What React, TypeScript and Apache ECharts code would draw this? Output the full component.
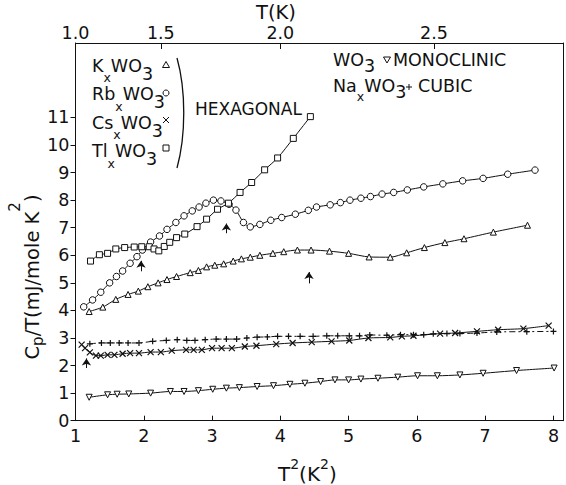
import React, { useEffect, useRef } from 'react';
import * as echarts from 'echarts';

const FONT = '"DejaVu Sans", sans-serif';
const INK = '#111';

// x = T^2 (K^2), y = Cp/T (mJ/mole K^2)
const kxwo3: number[][] = [
  [1.20, 3.96], [1.40, 4.12], [1.59, 4.40], [1.77, 4.58], [1.92, 4.70], [2.06, 4.86],
  [2.21, 5.00], [2.34, 5.12], [2.48, 5.23], [2.68, 5.37], [2.80, 5.45], [2.92, 5.58],
  [3.04, 5.64], [3.17, 5.69], [3.31, 5.79], [3.43, 5.87], [3.56, 5.93], [3.70, 6.00],
  [3.89, 6.07], [4.05, 6.13], [4.25, 6.19], [4.45, 6.19], [4.72, 6.15], [5.00, 6.07],
  [5.30, 5.94], [5.61, 5.93], [5.85, 6.09], [6.11, 6.28], [6.41, 6.46], [6.69, 6.60],
  [7.12, 6.84], [7.62, 7.09],
];

const rbxwo3: number[][] = [
  [1.12, 4.13], [1.25, 4.38], [1.37, 4.66], [1.50, 5.00], [1.60, 5.23], [1.69, 5.43],
  [1.80, 5.71], [1.90, 5.95], [1.98, 6.19], [2.10, 6.48], [2.23, 6.70], [2.34, 6.94],
  [2.47, 7.19], [2.59, 7.43], [2.71, 7.61], [2.81, 7.75], [2.91, 7.89], [3.02, 8.00],
  [3.13, 7.97], [3.25, 7.85], [3.35, 7.64], [3.46, 7.19], [3.56, 7.03], [3.70, 7.12],
  [3.86, 7.27], [4.02, 7.37], [4.22, 7.49], [4.41, 7.63], [4.53, 7.75], [4.73, 7.83],
  [4.88, 7.91], [5.02, 8.00], [5.18, 8.07], [5.32, 8.13], [5.49, 8.22], [5.66, 8.28],
  [5.86, 8.37], [6.10, 8.48], [6.38, 8.59], [6.67, 8.70], [6.97, 8.79], [7.33, 8.94],
  [7.73, 9.09],
];

const csxwo3: number[][] = [
  [1.09, 2.76], [1.14, 2.63], [1.21, 2.48], [1.30, 2.36], [1.37, 2.36], [1.47, 2.39],
  [1.57, 2.39], [1.69, 2.43], [1.80, 2.45], [1.93, 2.45], [2.10, 2.49], [2.25, 2.49],
  [2.41, 2.54], [2.62, 2.57], [2.73, 2.57], [2.85, 2.57], [3.00, 2.63], [3.14, 2.63],
  [3.29, 2.63], [3.48, 2.69], [3.65, 2.72], [3.94, 2.78], [4.18, 2.82], [4.46, 2.85],
  [4.75, 2.88], [5.01, 2.91], [5.29, 3.00], [5.61, 3.02], [5.78, 3.06], [5.95, 3.08],
  [6.34, 3.16], [6.56, 3.18], [6.88, 3.24], [7.19, 3.30], [7.56, 3.34], [7.93, 3.45],
];

const tlxwo3: number[][] = [
  [1.22, 5.79], [1.35, 6.02], [1.47, 6.07], [1.59, 6.23], [1.72, 6.28], [1.86, 6.30],
  [1.97, 6.31], [2.08, 6.31], [2.15, 6.23], [2.22, 6.16], [2.30, 6.32], [2.38, 6.47],
  [2.48, 6.64], [2.60, 6.77], [2.78, 7.04], [2.92, 7.31], [3.08, 7.67], [3.24, 7.89],
  [3.41, 8.28], [3.58, 8.64], [3.77, 9.10], [3.96, 9.53], [4.19, 10.24], [4.44, 11.03],
];

const wo3Mono: number[][] = [
  [1.20, 0.85], [1.47, 0.94], [1.61, 0.96], [1.78, 0.97], [2.10, 1.00], [2.39, 1.06],
  [2.59, 1.06], [2.80, 1.09], [3.01, 1.14], [3.21, 1.18], [3.40, 1.20], [3.66, 1.24],
  [3.90, 1.27], [4.14, 1.32], [4.36, 1.36], [4.59, 1.42], [4.80, 1.48], [5.00, 1.48],
  [5.18, 1.51], [5.43, 1.54], [5.72, 1.58], [6.01, 1.63], [6.30, 1.63], [6.63, 1.66],
  [6.97, 1.72], [7.46, 1.82], [8.01, 1.91],
];

const naxwo3: number[][] = [
  [1.21, 2.79], [1.38, 2.82], [1.51, 2.82], [1.64, 2.82], [1.77, 2.82], [1.93, 2.82],
  [2.13, 2.88], [2.33, 2.91], [2.49, 2.94], [2.63, 2.91], [2.75, 2.91], [2.90, 2.94],
  [3.06, 2.96], [3.21, 2.96], [3.36, 2.96], [3.51, 3.00], [3.66, 3.03], [3.81, 3.04],
  [3.96, 3.06], [4.12, 3.06], [4.29, 3.06], [4.48, 3.06], [4.68, 3.08], [4.84, 3.08],
  [5.01, 3.08], [5.16, 3.08], [5.31, 3.11], [5.56, 3.10], [5.76, 3.12], [5.95, 3.12],
  [6.10, 3.12], [6.24, 3.15], [6.44, 3.16], [6.63, 3.16], [6.88, 3.18], [7.17, 3.22],
  [7.61, 3.23], [8.00, 3.24],
];

// transition arrows (x, from y, to y)
const arrowX = [1.96, 3.21, 4.42, 1.16];
const arrowFrom = [5.42, 6.80, 4.98, 1.91];
const arrowTo = [5.80, 7.15, 5.39, 2.26];

const xTicks = [1, 2, 3, 4, 5, 6, 7, 8];
const yTicks = [0, 1, 2, 3, 4, 5, 6, 7, 8, 9, 10, 11];
const tTickLabels = ['1.0', '1.5', '2.0', '2.5'];

const X_MIN = 1;
const X_MAX = 8.14;
const Y_MAX = 13.7;

const CROSS = 'path://M0,0L10,10M10,0L0,10';
const PLUS = 'path://M5,0L5,10M0,5L10,5';

function makeSeries(name: string, data: number[][], symbol: string, size: number, opts: any = {}) {
  return {
    name,
    type: 'line',
    data,
    symbol,
    symbolSize: size,
    symbolRotate: opts.rotate || 0,
    smooth: opts.smooth ?? 0.25,
    lineStyle: { color: INK, width: 1, type: opts.lineType || 'solid' },
    itemStyle: { color: '#fff', borderColor: INK, borderWidth: opts.bw || 1 },
    emphasis: { disabled: true },
    silent: true,
    z: opts.z || 2,
    markLine: opts.markLine,
  };
}

function subRich(fs: number, lh: number) {
  return {
    m: { fontFamily: FONT, fontSize: fs, height: 20, lineHeight: lh, verticalAlign: 'top', fill: INK },
    x: { fontFamily: FONT, fontSize: 12.5, height: 12, lineHeight: lh, verticalAlign: 'bottom', fill: INK },
    n: { fontFamily: FONT, fontSize: fs, height: 20, lineHeight: lh, verticalAlign: 'bottom', fill: INK },
  };
}

export default function App() {
  const ref = useRef<HTMLDivElement>(null);

  useEffect(() => {
    if (!ref.current) return;
    const chart = echarts.init(ref.current, null, { renderer: 'svg' });

    const rowRich: any = subRich(17.5, 28);
    const rowRich2: any = subRich(17.5, 26);
    const legendRows = [
      { text: '{m|K}{x|x}{m|WO}{n|3}', top: 55.8 },
      { text: '{m|Rb}{x|x}{m|WO}{n|3}', top: 84.2 },
      { text: '{m|Cs}{x|x}{m|WO}{n|3}', top: 112.6 },
      { text: '{m|Tl}{x|x}{m|WO}{n|3}', top: 141 },
    ];
    const mk = { stroke: INK, fill: '#fff', lineWidth: 1 };

    const graphic: any[] = [
      ...legendRows.map((r) => ({
        type: 'text', x: 92, y: r.top, silent: true,
        style: { text: r.text, rich: rowRich, fill: INK, fontFamily: FONT, fontSize: 17.5, align: 'left', verticalAlign: 'top' },
      })),
      { type: 'polygon', shape: { points: [[166, 61.5], [169.5, 67.5], [162.5, 67.5]] }, style: mk },
      { type: 'circle', shape: { cx: 166, cy: 93, r: 3 }, style: mk },
      { type: 'line', shape: { x1: 163, y1: 117, x2: 169, y2: 123 }, style: { stroke: INK, lineWidth: 1 } },
      { type: 'line', shape: { x1: 169, y1: 117, x2: 163, y2: 123 }, style: { stroke: INK, lineWidth: 1 } },
      { type: 'rect', shape: { x: 163, y: 145, width: 6, height: 6 }, style: mk },
      { type: 'bezierCurve', shape: { x1: 177, y1: 58, cpx1: 186, cpy1: 90, cpx2: 186, cpy2: 135, x2: 177, y2: 168 }, style: { stroke: INK, fill: 'none', lineWidth: 1.3 } },
      { type: 'text', x: 195, y: 108.5, style: { text: 'HEXAGONAL', fill: INK, fontFamily: FONT, fontSize: 17, align: 'left', verticalAlign: 'middle' } },
      {
        type: 'text', x: 333, y: 50, style: {
          text: '{m|WO}{n|3}', rich: rowRich2,
          fill: INK, fontFamily: FONT, fontSize: 17.5, align: 'left', verticalAlign: 'top',
        },
      },
      { type: 'polygon', shape: { points: [[383.5, 57], [390.5, 57], [387, 63]] }, style: mk },
      { type: 'text', x: 393, y: 60, style: { text: 'MONOCLINIC', fill: INK, fontFamily: FONT, fontSize: 17.5, lineHeight: 20, align: 'left', verticalAlign: 'middle' } },
      {
        type: 'text', x: 333, y: 76, style: {
          text: '{m|Na}{x|x}{m|WO}{n|3}', rich: rowRich2,
          fill: INK, fontFamily: FONT, fontSize: 17.5, align: 'left', verticalAlign: 'top',
        },
      },
      { type: 'line', shape: { x1: 409, y1: 84, x2: 409, y2: 90 }, style: { stroke: INK, lineWidth: 1 } },
      { type: 'line', shape: { x1: 406, y1: 87, x2: 412, y2: 87 }, style: { stroke: INK, lineWidth: 1 } },
      { type: 'text', x: 418, y: 86, style: { text: 'CUBIC', fill: INK, fontFamily: FONT, fontSize: 17.5, lineHeight: 20, align: 'left', verticalAlign: 'middle' } },
      // axis titles
      { type: 'text', x: 276, y: 12, style: { text: 'T(K)', fill: INK, fontFamily: FONT, fontSize: 19.5, lineHeight: 19, align: 'center', verticalAlign: 'middle' } },
      {
        type: 'text', x: 278, y: 459, style: {
          text: '{m|T}{s|2}{m|(K}{s|2}{m|)}',
          rich: {
            m: { fontFamily: FONT, fontSize: 20, height: 30, verticalAlign: 'top', fill: INK },
            s: { fontFamily: FONT, fontSize: 14, height: 10, verticalAlign: 'top', fill: INK },
          },
          fill: INK, fontFamily: FONT, fontSize: 20, align: 'left', verticalAlign: 'top',
        },
      },
      {
        type: 'text', x: 38, y: 277, rotation: Math.PI / 2, style: {
          text: '{m|C}{p|p}{m|/T(mJ/mole K}{s|2}{m|)}',
          rich: {
            m: { fontFamily: FONT, fontSize: 19.5, height: 50, verticalAlign: 'top', fill: INK },
            p: { fontFamily: FONT, fontSize: 15, height: 62, verticalAlign: 'top', fill: INK },
            s: { fontFamily: FONT, fontSize: 15, height: 16, verticalAlign: 'top', fill: INK },
          },
          fill: INK, fontFamily: FONT, fontSize: 19.5, align: 'center', verticalAlign: 'middle',
        },
      },
    ];

    const arrowLines = arrowX.map((x, i) => [{ coord: [x, arrowFrom[i]] }, { coord: [x, arrowTo[i]] }]);

    const labelStyle = { color: INK, fontFamily: FONT, fontSize: 17.5 };

    chart.setOption({
      animation: false,
      backgroundColor: '#fff',
      grid: { left: 75.5, right: 3, top: 43, bottom: 64.3, containLabel: false },
      xAxis: [
        {
          type: 'value', position: 'bottom', min: X_MIN, max: X_MAX, interval: 1,
          axisLine: { show: true, onZero: false, lineStyle: { color: INK, width: 1 } },
          axisTick: { show: true, inside: true, length: 5, customValues: xTicks, lineStyle: { color: INK } },
          axisLabel: { show: true, customValues: xTicks, margin: 6, ...labelStyle },
          splitLine: { show: false },
        },
        {
          type: 'value', position: 'top', min: X_MIN, max: X_MAX,
          axisLine: { show: true, onZero: false, lineStyle: { color: INK, width: 1 } },
          axisTick: { show: true, inside: true, length: 6, customValues: tTickLabels.slice(1).map((t) => Number(t) * Number(t)), lineStyle: { color: INK } },
          axisLabel: {
            show: true, margin: 2, lineHeight: 16, ...labelStyle,
            customValues: tTickLabels.map((t) => Number(t) * Number(t)),
            formatter: (v: number) => {
              const i = tTickLabels.findIndex((t) => Math.abs(Number(t) * Number(t) - v) < 1e-6);
              return i >= 0 ? tTickLabels[i] : '';
            },
          },
          splitLine: { show: false },
        },
      ],
      yAxis: [
        {
          type: 'value', position: 'left', min: 0, max: Y_MAX, interval: 1,
          axisLine: { show: true, onZero: false, lineStyle: { color: INK, width: 1 } },
          axisTick: { show: true, inside: false, length: 5, customValues: yTicks, lineStyle: { color: INK } },
          axisLabel: { show: true, customValues: yTicks, margin: 6, ...labelStyle },
          splitLine: { show: false },
        },
        {
          type: 'value', position: 'right', min: 0, max: Y_MAX,
          axisLine: { show: true, onZero: false, lineStyle: { color: INK, width: 1 } },
          axisTick: { show: false },
          axisLabel: { show: false },
          splitLine: { show: false },
        },
      ],
      series: [
        makeSeries('KxWO3', kxwo3, 'triangle', 6),
        makeSeries('RbxWO3', rbxwo3, 'circle', 6.5, {
          markLine: {
            silent: true,
            symbol: ['none', 'arrow'],
            symbolSize: 7,
            label: { show: false },
            lineStyle: { color: INK, type: 'solid', width: 1 },
            emphasis: { disabled: true },
            data: arrowLines,
          },
        }),
        makeSeries('CsxWO3', csxwo3, CROSS, 6, { bw: 1.2 }),
        makeSeries('TlxWO3', tlxwo3, 'rect', 6),
        makeSeries('WO3', wo3Mono, 'triangle', 6, { rotate: 180 }),
        makeSeries('NaxWO3', naxwo3, PLUS, 6, { lineType: [6, 3, 2, 3], bw: 1.2 }),
      ],
      graphic,
    });

    return () => chart.dispose();
  }, []);

  return (
    <div
      ref={ref}
      style={{ position: 'fixed', left: 0, top: 0, width: 566, height: 485, background: '#fff' }}
    />
  );
}
